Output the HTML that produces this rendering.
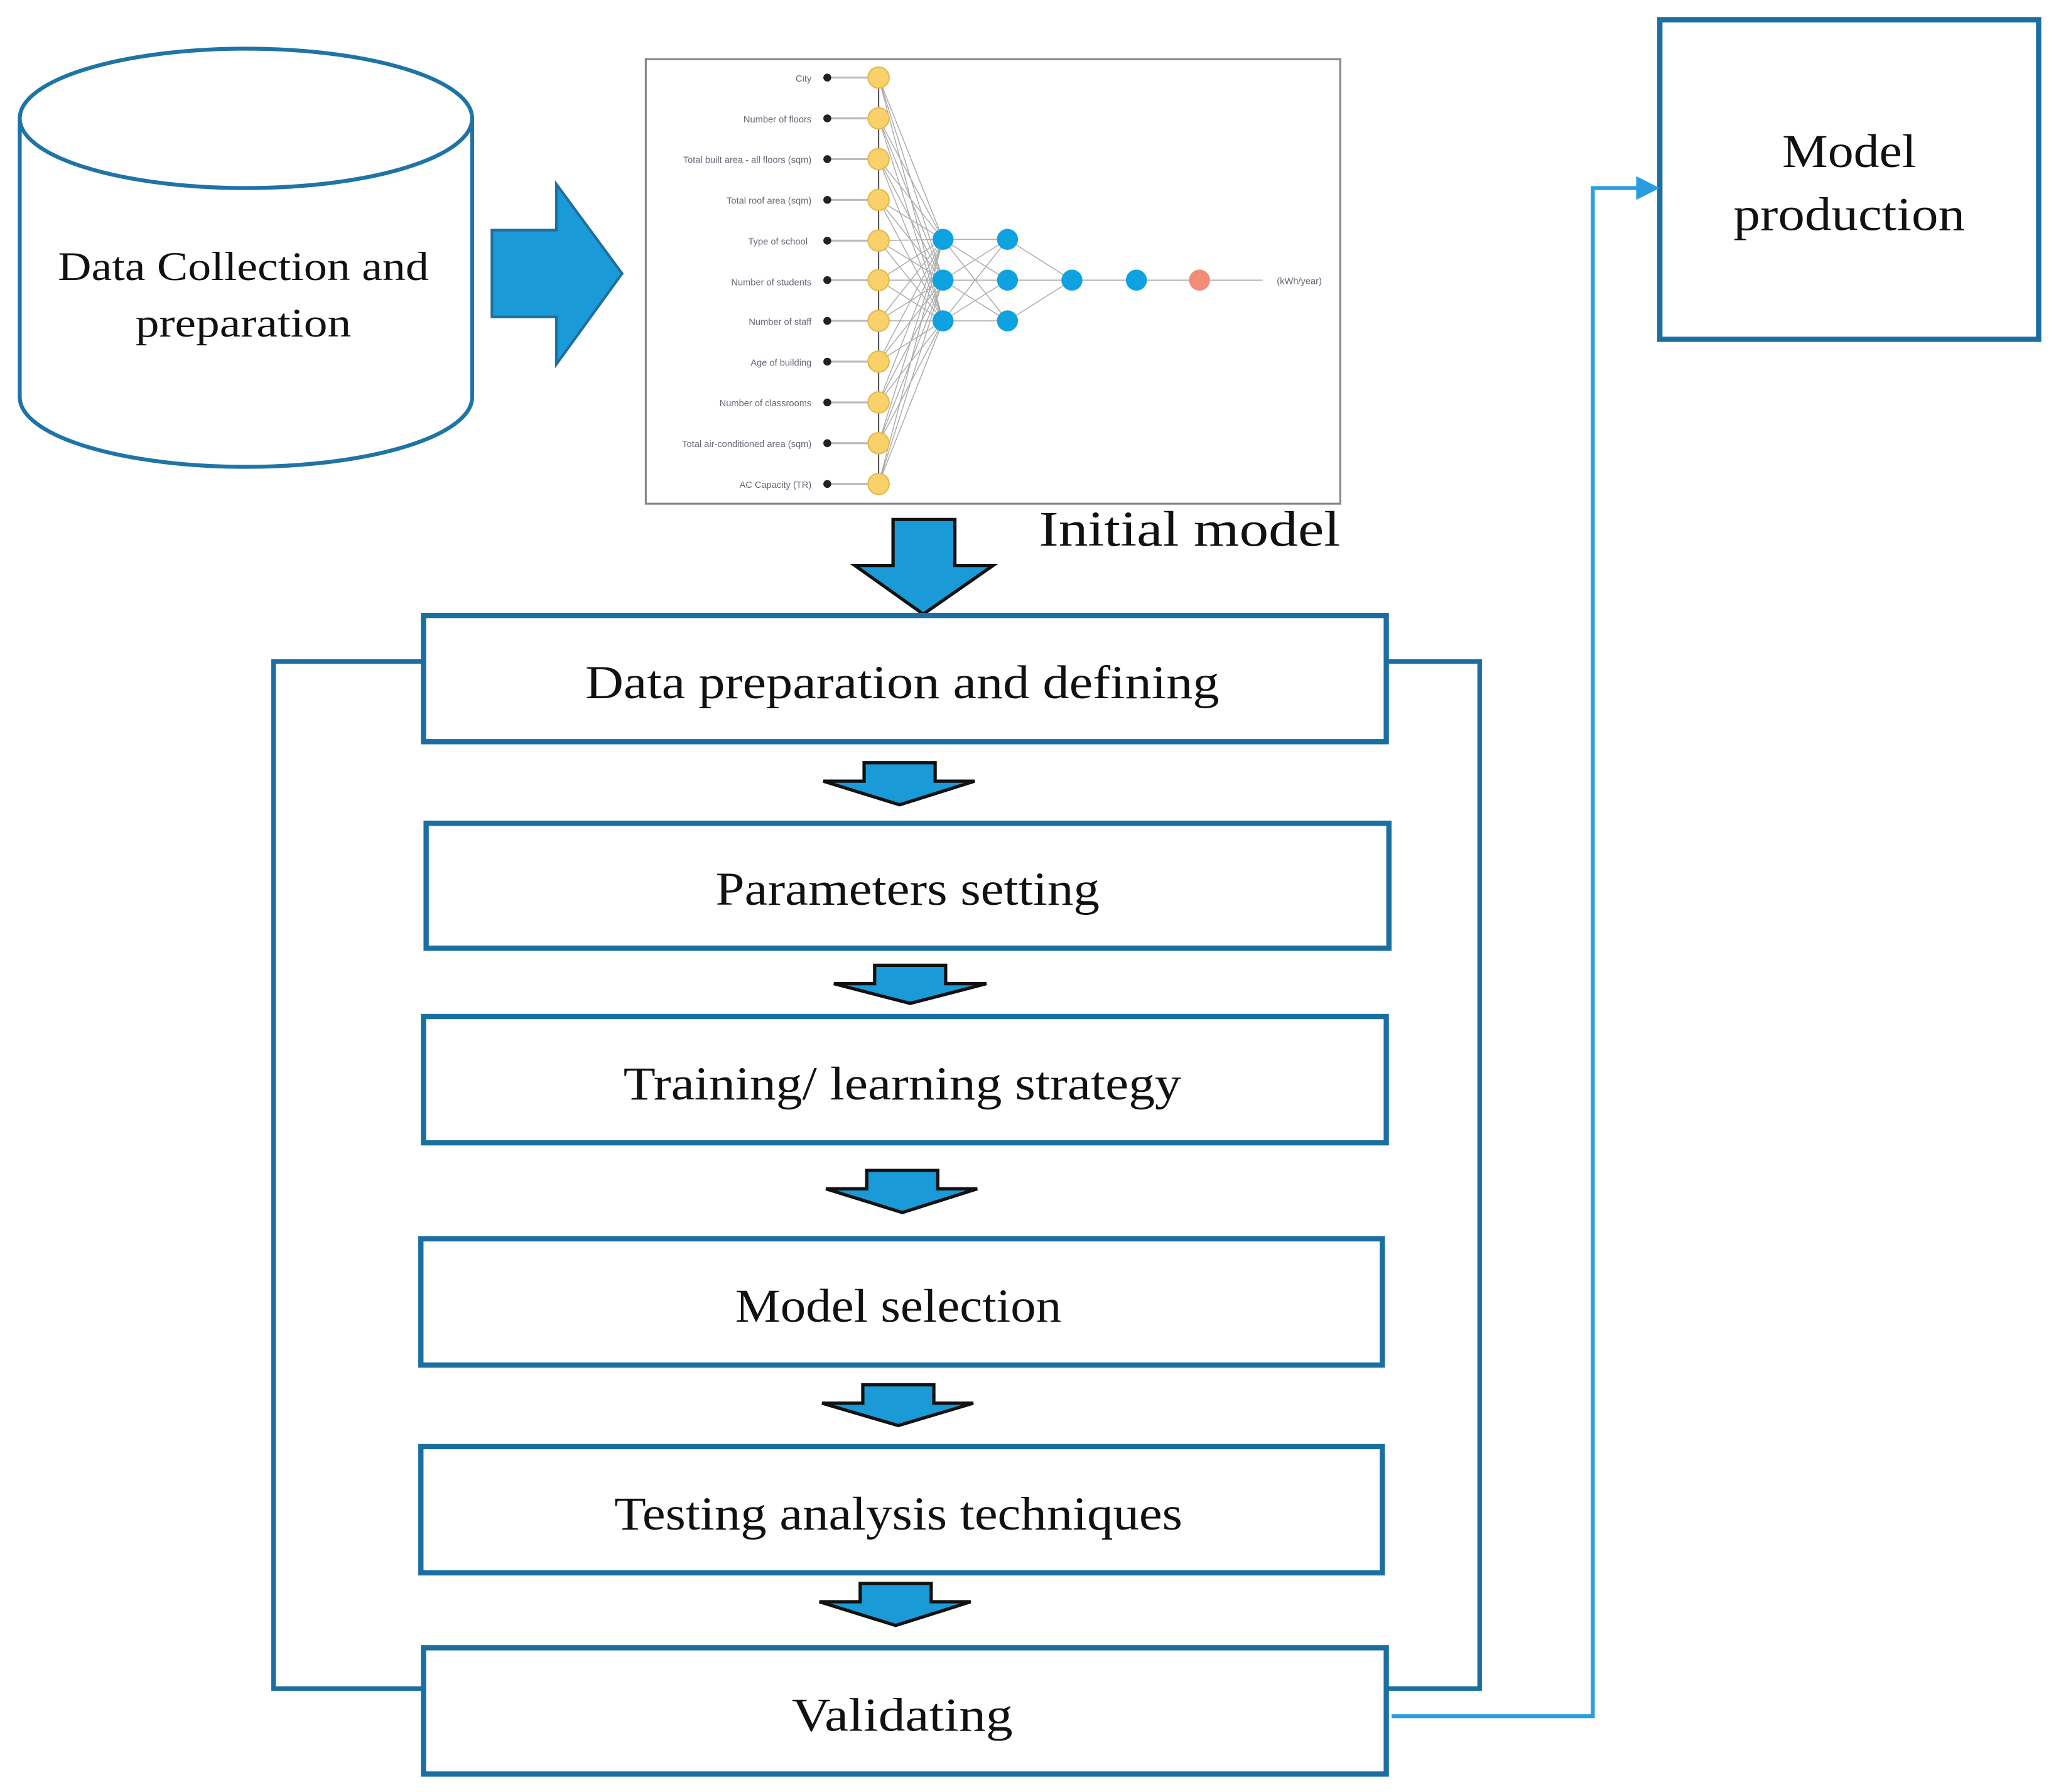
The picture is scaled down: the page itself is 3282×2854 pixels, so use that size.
<!DOCTYPE html>
<html><head><meta charset="utf-8"><style>
html,body{margin:0;padding:0;background:#fff;}
svg{display:block;}
text{font-family:"Liberation Serif",serif;fill:#111;}
</style></head><body>
<svg width="3282" height="2854" viewBox="0 0 1567 1362.6" preserveAspectRatio="xMinYMin meet" xmlns="http://www.w3.org/2000/svg">
<rect width="1567" height="1362.6" fill="#fff"/>
<g stroke="#1f74a6" stroke-width="3" fill="#fff">
<path d="M15,90 L15,302 A172,53 0 0 0 359,302 L359,90"/>
<ellipse cx="187" cy="90" rx="172" ry="53"/>
</g>
<text x="185" y="213" font-size="31" text-anchor="middle" textLength="282" lengthAdjust="spacingAndGlyphs">Data Collection  and</text>
<text x="185" y="256" font-size="31" text-anchor="middle" textLength="164" lengthAdjust="spacingAndGlyphs">preparation</text>
<path d="M374,175 L423,175 L423,140 L473,208 L423,277 L423,241 L374,241 Z" fill="#1a9ad6" stroke="#1f6ea0" stroke-width="2"/>
<rect x="491" y="45" width="528" height="338" fill="#fff" stroke="#888" stroke-width="1.5"/>
<g font-size="7" text-anchor="end">
<text x="617" y="62" style="font-family:'Liberation Sans',sans-serif;fill:#667">City</text>
<text x="617" y="93" style="font-family:'Liberation Sans',sans-serif;fill:#667">Number of floors</text>
<text x="617" y="124" style="font-family:'Liberation Sans',sans-serif;fill:#667">Total built area - all floors (sqm)</text>
<text x="617" y="155" style="font-family:'Liberation Sans',sans-serif;fill:#667">Total roof area (sqm)</text>
<text x="614" y="186" style="font-family:'Liberation Sans',sans-serif;fill:#667">Type of school</text>
<text x="617" y="217" style="font-family:'Liberation Sans',sans-serif;fill:#667">Number of students</text>
<text x="617" y="247" style="font-family:'Liberation Sans',sans-serif;fill:#667">Number of staff</text>
<text x="617" y="278" style="font-family:'Liberation Sans',sans-serif;fill:#667">Age of building</text>
<text x="617" y="309" style="font-family:'Liberation Sans',sans-serif;fill:#667">Number of classrooms</text>
<text x="617" y="340" style="font-family:'Liberation Sans',sans-serif;fill:#667">Total air-conditioned area (sqm)</text>
<text x="617" y="371" style="font-family:'Liberation Sans',sans-serif;fill:#667">AC Capacity (TR)</text>
<text x="1005" y="216" style="font-family:'Liberation Sans',sans-serif;fill:#667">(kWh/year)</text>
</g>
<g stroke="#aaa" stroke-width="0.7" fill="none">
<path d="M668,59L717,182M668,59L717,213M668,59L717,244M668,90L717,182M668,90L717,213M668,90L717,244M668,121L717,182M668,121L717,213M668,121L717,244M668,152L717,182M668,152L717,213M668,152L717,244M668,183L717,182M668,183L717,213M668,183L717,244M668,213L717,182M668,213L717,213M668,213L717,244M668,244L717,182M668,244L717,213M668,244L717,244M668,275L717,182M668,275L717,213M668,275L717,244M668,306L717,182M668,306L717,213M668,306L717,244M668,337L717,182M668,337L717,213M668,337L717,244M668,368L717,182M668,368L717,213M668,368L717,244"/>
<path d="M717,182L766,182M717,182L766,213M717,182L766,244M717,213L766,182M717,213L766,213M717,213L766,244M717,244L766,182M717,244L766,213M717,244L766,244M766,182L815,213M766,213L815,213M766,244L815,213M815,213L960,213"/>
<path d="M668,59L668,368" stroke="#555" stroke-width="1"/>
<path d="M629,59H668M629,90H668M629,121H668M629,152H668M629,183H668M629,213H668M629,244H668M629,275H668M629,306H668M629,337H668M629,368H668" stroke="#bbb" stroke-width="1.5"/>
</g>
<g fill="#222">
<circle cx="629" cy="59" r="3"/><circle cx="629" cy="90" r="3"/><circle cx="629" cy="121" r="3"/><circle cx="629" cy="152" r="3"/><circle cx="629" cy="183" r="3"/><circle cx="629" cy="213" r="3"/><circle cx="629" cy="244" r="3"/><circle cx="629" cy="275" r="3"/><circle cx="629" cy="306" r="3"/><circle cx="629" cy="337" r="3"/><circle cx="629" cy="368" r="3"/>
</g>
<g fill="#f8d16a" stroke="#e6b84a" stroke-width="1">
<circle cx="668" cy="59" r="8"/><circle cx="668" cy="90" r="8"/><circle cx="668" cy="121" r="8"/><circle cx="668" cy="152" r="8"/><circle cx="668" cy="183" r="8"/><circle cx="668" cy="213" r="8"/><circle cx="668" cy="244" r="8"/><circle cx="668" cy="275" r="8"/><circle cx="668" cy="306" r="8"/><circle cx="668" cy="337" r="8"/><circle cx="668" cy="368" r="8"/>
</g>
<g fill="#0fa2e0">
<circle cx="717" cy="182" r="8"/><circle cx="717" cy="213" r="8"/><circle cx="717" cy="244" r="8"/>
<circle cx="766" cy="182" r="8"/><circle cx="766" cy="213" r="8"/><circle cx="766" cy="244" r="8"/>
<circle cx="815" cy="213" r="8"/><circle cx="864" cy="213" r="8"/>
</g>
<circle cx="912" cy="213" r="8" fill="#f48a78"/>
<text x="790" y="415" font-size="38" textLength="229" lengthAdjust="spacingAndGlyphs">Initial model</text>
<path d="M679,395 L726,395 L726,430 L755,430 L702,467 L650,430 L679,430 Z" fill="#1a9ad6" stroke="#111" stroke-width="2.5"/>
<g stroke="#1b6fa0" stroke-width="3.5" fill="none">
<path d="M322,503 H208 V1284 H322"/>
<path d="M1054,503 H1125 V1284 H1054"/>
</g>
<g stroke="#1b6fa0" stroke-width="4" fill="#fff">
<rect x="322" y="468" width="732" height="96"/>
<rect x="324" y="626" width="732" height="95"/>
<rect x="322" y="773" width="732" height="96"/>
<rect x="320" y="942" width="731" height="96"/>
<rect x="320" y="1100" width="731" height="96"/>
<rect x="322" y="1253" width="732" height="96"/>
<rect x="1262" y="15" width="288" height="243"/>
</g>
<g font-size="36" text-anchor="middle">
<text x="686" y="531" textLength="482" lengthAdjust="spacingAndGlyphs">Data preparation and defining</text>
<text x="690" y="688" textLength="292" lengthAdjust="spacingAndGlyphs">Parameters setting</text>
<text x="686" y="836" textLength="424" lengthAdjust="spacingAndGlyphs">Training/ learning strategy</text>
<text x="683" y="1005" textLength="248" lengthAdjust="spacingAndGlyphs">Model selection</text>
<text x="683" y="1163" textLength="432" lengthAdjust="spacingAndGlyphs">Testing analysis techniques</text>
<text x="686" y="1316" textLength="168" lengthAdjust="spacingAndGlyphs">Validating</text>
<text x="1406" y="127" textLength="102" lengthAdjust="spacingAndGlyphs">Model</text>
<text x="1406" y="175" textLength="176" lengthAdjust="spacingAndGlyphs">production</text>
</g>
<g fill="#1a9ad6" stroke="#111" stroke-width="2.5">
<path d="M657,580 L711,580 L711,594 L741,594 L684,612 L626,594 L657,594 Z"/>
<path d="M665,734 L719,734 L719,748 L750,748 L692,763 L634,748 L665,748 Z"/>
<path d="M659,890 L713,890 L713,904 L743,904 L686,922 L628,904 L659,904 Z"/>
<path d="M656,1053 L710,1053 L710,1067 L740,1067 L683,1084 L625,1067 L656,1067 Z"/>
<path d="M654,1204 L708,1204 L708,1218 L738,1218 L681,1236 L623,1218 L654,1218 Z"/>
</g>
<path d="M1058,1305 H1211 V143 H1250" stroke="#2a9de0" stroke-width="3" fill="none"/>
<path d="M1262,143 L1244,134 L1244,152 Z" fill="#2a9de0"/>
</svg>
</body></html>
